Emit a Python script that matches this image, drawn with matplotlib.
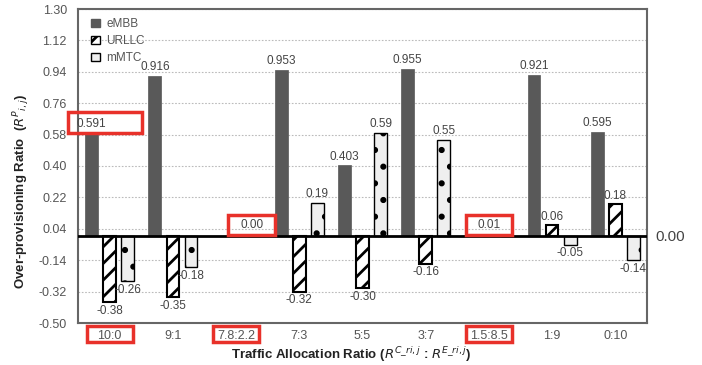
import matplotlib
matplotlib.use("Agg")
import matplotlib.pyplot as plt
from matplotlib.patches import Rectangle, Patch
import matplotlib.transforms as mtransforms
import numpy as np

plt.rcParams['font.family'] = ['Liberation Sans', 'DejaVu Sans']
plt.rcParams['hatch.linewidth'] = 2.0
plt.rcParams['hatch.color'] = 'black'

categories = ["10:0", "9:1", "7.8:2.2", "7:3", "5:5", "3:7", "1.5:8.5", "1:9", "0:10"]
embb = [0.591, 0.916, 0.0, 0.953, 0.403, 0.955, 0.0, 0.921, 0.595]
urllc = [-0.38, -0.35, 0.0, -0.32, -0.30, -0.16, 0.0, 0.06, 0.18]
mmtc = [-0.26, -0.18, 0.0, 0.19, 0.59, 0.55, 0.0, -0.05, -0.14]
embb_labels = ["0.591", "0.916", "", "0.953", "0.403", "0.955", "", "0.921", "0.595"]
urllc_labels = ["-0.38", "-0.35", "", "-0.32", "-0.30", "-0.16", "", "0.06", "0.18"]
mmtc_labels = ["-0.26", "-0.18", "", "0.19", "0.59", "0.55", "", "-0.05", "-0.14"]
zero_groups = [2, 6]
zero_labels = ["0.00", "0.01"]
yticks = [-0.50, -0.32, -0.14, 0.04, 0.22, 0.40, 0.58, 0.76, 0.94, 1.12, 1.30]
highlight_ticks = [0, 2, 6]

fig = plt.figure(figsize=(7.02, 3.65), dpi=100)
ax = fig.add_axes([78/702, 1-323/365, (647-78)/702, (323-9)/365])

x = np.arange(len(categories))
w = 0.2
off = 0.285
lab_col = '#444444'

ax.bar(x - off, embb, w, color='#595959', edgecolor='#595959', linewidth=0.5, zorder=3, label='eMBB')
ax.bar(x, urllc, w, color='white', edgecolor='black', hatch='//', linewidth=1.5, zorder=3, label='URLLC')
ax.bar(x + off, mmtc, w, color='#efefef', edgecolor='black', hatch='.', linewidth=1.0, zorder=3, label='mMTC')

def put_labels(xs, vals, labs):
    for xi, v, l in zip(xs, vals, labs):
        if not l:
            continue
        if v >= 0:
            ax.annotate(l, (xi, v), xytext=(0, 2), textcoords='offset points',
                        ha='center', va='bottom', fontsize=8.5, color=lab_col, zorder=5)
        else:
            ax.annotate(l, (xi, v), xytext=(0, -2), textcoords='offset points',
                        ha='center', va='top', fontsize=8.5, color=lab_col, zorder=5)

put_labels(x - off, embb, embb_labels)
put_labels(x, urllc, urllc_labels)
put_labels(x + off, mmtc, mmtc_labels)

zero_dx = [0.25, 0.0]
for g, l, dx in zip(zero_groups, zero_labels, zero_dx):
    ax.text(g + dx, 0.06, l, ha='center', va='center', fontsize=8.5, color=lab_col, zorder=5)
    ax.add_patch(Rectangle((g + dx - 0.37, 0.004), 0.74, 0.113, fill=False,
                           edgecolor='#e8312a', linewidth=2.5, zorder=6, clip_on=False))

# highlight box around first eMBB label
ax.add_patch(Rectangle((-0.665, 0.591), 1.17, 0.12, fill=False,
                       edgecolor='#e8312a', linewidth=2.5, zorder=6, clip_on=False))

ax.axhline(0, color='black', linewidth=2, zorder=4)

ax.set_xlim(-0.5, len(categories) - 0.5)
ax.set_ylim(-0.50, 1.30)
ax.set_yticks(yticks)
ax.set_yticklabels([f"{t:.2f}" for t in yticks])
ax.set_xticks(x)
ax.set_xticklabels(categories)
ax.tick_params(axis='both', length=0, labelsize=9, colors='#555555')
ax.tick_params(axis='y', pad=8)
ax.tick_params(axis='x', pad=5)
ax.grid(axis='y', linestyle=(0, (1.5, 1.5)), color='#bbbbbb', linewidth=0.8, zorder=0)
for s in ax.spines.values():
    s.set_color('#666666')
    s.set_linewidth(1.5)

tr = mtransforms.blended_transform_factory(ax.transData, ax.transAxes)
for i in highlight_ticks:
    ax.add_patch(Rectangle((i - 0.365, -0.061), 0.73, 0.051, fill=False, transform=tr,
                           edgecolor='#e8312a', linewidth=2.5, zorder=6, clip_on=False))

ax.set_ylabel(r"Over-provisioning Ratio  ($R^{P}{}_{i,j}$)", fontsize=9.5, fontweight='bold',
              color='#222222')
ax.yaxis.set_label_coords(-0.08, 0.42)
ax.set_xlabel(r"Traffic Allocation Ratio ($R^{C\_ri,j}$ : $R^{E\_ri,j}$)", fontsize=9.5,
              fontweight='bold', color='#222222')
ax.xaxis.set_label_coords(0.48, -0.07)

fig.text(655/702, 1 - 237/365, "0.00", fontsize=11, color='#444444', va='center', ha='left')

handles = [Patch(facecolor='#595959', edgecolor='#595959'),
           Patch(facecolor='white', edgecolor='black', hatch='//'),
           Patch(facecolor='#efefef', edgecolor='black', hatch='.')]
leg = ax.legend(handles, ['eMBB', 'URLLC', 'mMTC'], loc='upper left', frameon=False,
                fontsize=8.5, handlelength=0.7, handleheight=0.7, labelspacing=0.4,
                handletextpad=0.6, borderaxespad=0.0, bbox_to_anchor=(0.015, 0.985))
for t in leg.get_texts():
    t.set_color('#555555')

fig.savefig('out.png', dpi=100)
